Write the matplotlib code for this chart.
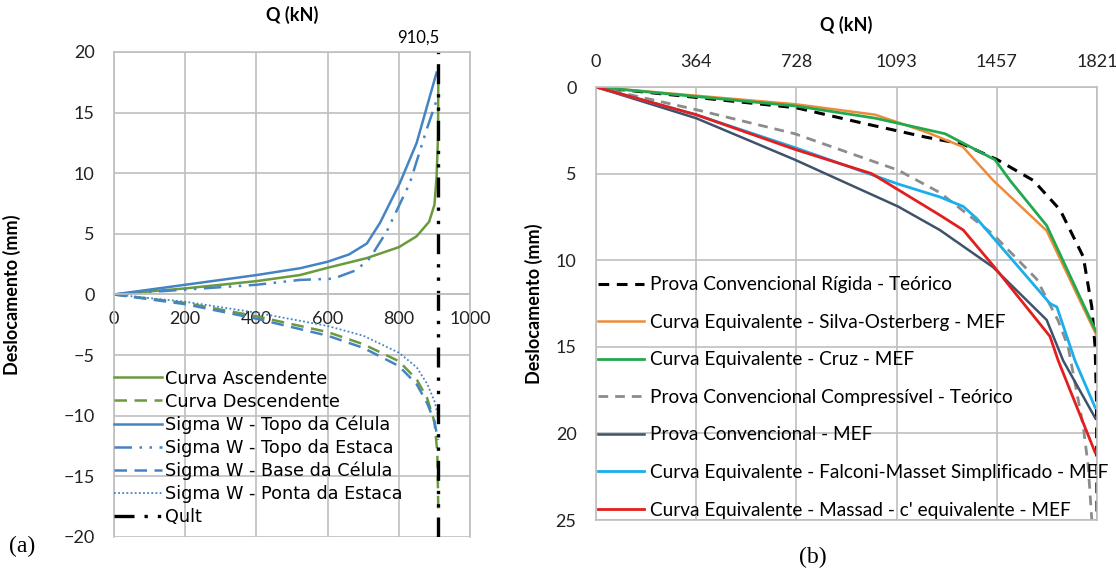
from matplotlib import pyplot

pyplot.rcParams["font.family"] = ["Lato", "DejaVu Sans"]

# (a) carregamento bidirecional
q_asc = [0, 200, 400, 522, 600, 710, 800, 850, 885, 900, 906, 910, 911]
d_asc = [0, 0.5, 1.1, 1.6, 2.2, 3.0, 3.9, 4.8, 6.0, 7.4, 9.7, 13, 18]
q_desc = [0, 200, 400, 600, 700, 800, 850, 880, 900, 908, 911]
d_desc = [0, -0.7, -1.8, -3.1, -4.1, -5.5, -7.0, -8.6, -10.5, -13, -18]
q_topo_cel = [0, 200, 400, 522, 600, 660, 710, 747, 803, 850, 906]
d_topo_cel = [0, 0.8, 1.6, 2.16, 2.7, 3.3, 4.2, 5.9, 9.2, 12.5, 18.3]
q_topo_est = [0, 200, 400, 522, 616, 680, 719, 766, 831, 878, 906]
d_topo_est = [0, 0.4, 0.8, 1.2, 1.3, 2.0, 3.0, 5.2, 9.2, 13.6, 16.0]
q_base_cel = [0, 200, 400, 600, 700, 800, 850, 880, 900, 910]
d_base_cel = [0, -0.8, -2.0, -3.4, -4.4, -5.9, -7.4, -9.0, -10.5, -12.0]
q_ponta = [0, 200, 400, 600, 700, 800, 850, 880, 900, 910]
d_ponta = [0, -0.6, -1.5, -2.6, -3.4, -4.8, -6.0, -7.4, -8.8, -10.0]
q_ult = 910.5

# (b) prova convencional equivalente
x_ticks_b = [0, 364, 728, 1093, 1457, 1821]
q_rigida = [0, 364, 728, 973, 1200, 1334, 1459, 1590, 1687, 1771, 1802,
            1814, 1819, 1821]
d_rigida = [0, 0.6, 1.2, 2.1, 2.9, 3.3, 4.2, 5.4, 7.1, 9.8, 12.7, 15, 18, 25]
q_silva = [0, 364, 728, 1015, 1200, 1333, 1444, 1638, 1821]
d_silva = [0, 0.5, 1.0, 1.6, 2.6, 3.45, 5.4, 8.3, 14.4]
q_cruz = [0, 364, 728, 1015, 1269, 1450, 1505, 1638, 1808, 1821]
d_cruz = [0, 0.55, 1.1, 1.8, 2.7, 4.2, 5.4, 8.0, 13.8, 14.2]
q_compr = [0, 362, 723, 1098, 1250, 1443, 1602, 1680, 1716, 1771, 1789, 1802]
d_compr = [0, 1.3, 2.7, 4.8, 6.1, 8.5, 11.1, 13.5, 15.0, 19.6, 21.9, 25]
q_conv = [0, 364, 723, 1098, 1250, 1443, 1638, 1698, 1814]
d_conv = [0, 1.8, 4.2, 6.9, 8.26, 10.4, 13.45, 15.8, 19.1]
q_falconi = [0, 364, 723, 1098, 1250, 1335, 1384, 1650, 1675, 1741, 1814]
d_falconi = [0, 1.6, 3.5, 5.6, 6.35, 6.9, 7.6, 12.5, 12.7, 15.8, 18.5]
q_massad = [0, 364, 723, 1002, 1250, 1335, 1443, 1650, 1680, 1814]
d_massad = [0, 1.6, 3.6, 5.0, 7.4, 8.26, 10.3, 14.4, 15.8, 21.1]

GRID = "#BFBFBF"
GREEN_A = "#6A9A3C"
BLUE_A = "#4584C4"
FS = 13


def style_axes(ax):
    for side in ax.spines:
        ax.spines[side].set_color(GRID)
        ax.spines[side].set_linewidth(1.2)
    ax.tick_params(length=0, labelsize=FS, labelcolor="#222222")
    ax.set_axisbelow(True)


fig = pyplot.figure(figsize=(11.16, 5.72), dpi=100)

# ---- (a)
ax1 = fig.add_axes([0.1022, 0.0612, 0.319, 0.848])
style_axes(ax1)
ax1.plot(q_asc, d_asc, color=GREEN_A, lw=1.8, label="Curva Ascendente")
ax1.plot(q_desc, d_desc, color=GREEN_A, lw=1.8, ls=(0, (5, 3)),
         label="Curva Descendente")
ax1.plot(q_topo_cel, d_topo_cel, color=BLUE_A, lw=1.8,
         label="Sigma W - Topo da Célula")
ax1.plot(q_topo_est, d_topo_est, color=BLUE_A, lw=1.8,
         ls=(0, (7, 3, 1, 3, 1, 3)), label="Sigma W - Topo da Estaca")
ax1.plot(q_base_cel, d_base_cel, color=BLUE_A, lw=1.8, ls=(0, (5, 3)),
         label="Sigma W - Base da Célula")
ax1.plot(q_ponta, d_ponta, color=BLUE_A, lw=1.3, ls=(0, (1, 1.3)),
         label="Sigma W - Ponta da Estaca")
ax1.plot([q_ult, q_ult], [-20, 20], color="black", lw=2.4,
         ls=(0, (6, 3, 1, 3, 1, 3)), label="Qult")
ax1.set_xlim(0, 1000)
ax1.set_ylim(-20, 20)
ax1.set_xticks(range(0, 1001, 200))
ax1.set_yticks(range(-20, 21, 5))
ax1.grid(True, color=GRID, linewidth=1.2)
ax1.spines["bottom"].set_position(("data", 0))
ax1.tick_params(axis="x", pad=12)
ax1.tick_params(axis="y", pad=14)
ax1.set_ylabel("Deslocamento (mm)", fontsize=FS, fontweight="bold")
ax1.yaxis.set_label_coords(-0.26, 0.5)
ax1.set_title("Q (kN)", fontsize=FS, fontweight="bold", pad=22)
ax1.text(q_ult + 2, 20.5, "910,5", ha="right", va="bottom", fontsize=FS - 1)
ax1.legend(loc="upper left", bbox_to_anchor=(0.0, 0.345), frameon=False,
           prop={"family": "DejaVu Sans", "size": 12.7},
           handlelength=2.7, handletextpad=0.2,
           labelspacing=0.28, borderaxespad=0, borderpad=0)

# ---- (b)
ax2 = fig.add_axes([0.534, 0.0909, 0.449, 0.757])
style_axes(ax2)
ax2.plot(q_rigida, d_rigida, color="black", lw=2.2, ls=(0, (3.5, 2.5)),
         label="Prova Convencional Rígida - Teórico")
ax2.plot(q_silva, d_silva, color="#EE8B3A", lw=1.8,
         label="Curva Equivalente - Silva-Osterberg - MEF")
ax2.plot(q_cruz, d_cruz, color="#22A94F", lw=2.0,
         label="Curva Equivalente - Cruz - MEF")
ax2.plot(q_compr, d_compr, color="#8C8C8C", lw=2.0, ls=(0, (3.5, 2.5)),
         label="Prova Convencional Compressível - Teórico")
ax2.plot(q_conv, d_conv, color="#3F526B", lw=1.8,
         label="Prova Convencional - MEF")
ax2.plot(q_falconi, d_falconi, color="#1AAEEB", lw=2.0,
         label="Curva Equivalente - Falconi-Masset Simplificado - MEF")
ax2.plot(q_massad, d_massad, color="#E41E1E", lw=2.0,
         label="Curva Equivalente - Massad - c' equivalente - MEF")
ax2.set_xlim(0, 1821)
ax2.set_ylim(25, 0)
ax2.set_xticks(x_ticks_b)
ax2.set_yticks(range(0, 26, 5))
ax2.grid(True, color=GRID, linewidth=1.2)
ax2.xaxis.tick_top()
ax2.tick_params(axis="x", pad=12)
ax2.tick_params(axis="y", pad=14)
ax2.set_ylabel("Deslocamento (mm)", fontsize=FS, fontweight="bold")
ax2.yaxis.set_label_coords(-0.105, 0.5)
ax2.set_title("Q (kN)", fontsize=FS, fontweight="bold", pad=40)
ax2.legend(loc="upper left", bbox_to_anchor=(0.005, 0.563), frameon=False,
           fontsize=13.7, handlelength=2.4, handletextpad=0.3,
           labelspacing=1.08, borderaxespad=0, borderpad=0)

fig.text(0.008, 0.035, "(a)", fontsize=17, family="Liberation Serif")
fig.text(0.728, 0.015, "(b)", fontsize=17, family="Liberation Serif",
         ha="center")

fig.savefig("out.png", dpi=100)
